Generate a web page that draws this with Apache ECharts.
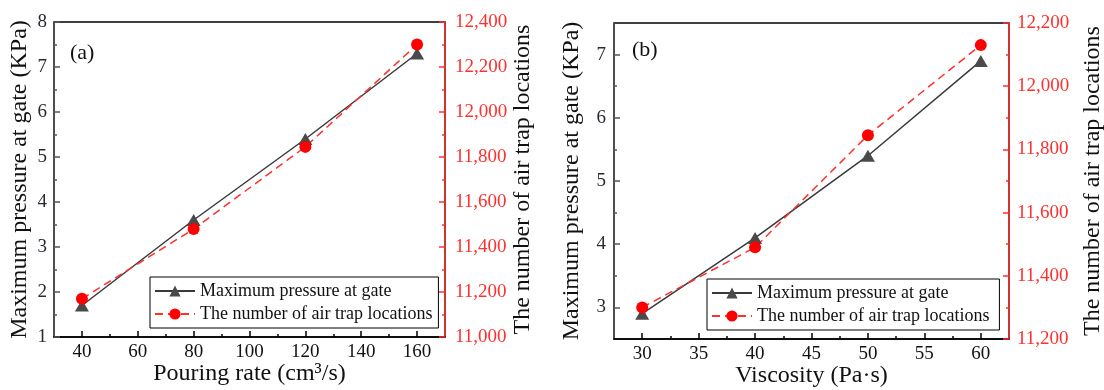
<!DOCTYPE html>
<html>
<head>
<meta charset="utf-8">
<script src="https://cdn.jsdelivr.net/npm/echarts@6/dist/echarts.min.js"></script>
<style>
	html, body { margin: 0; padding: 0; background: #fff; }
	#main { width: 1104px; height: 390px; }
</style>
</head>
<body>
<div id="main"></div>
<script>
	// panel (a): pouring rate
	const rateA = [40, 80, 120, 160];
	const pressureA = [1.7, 3.6, 5.4, 7.3];
	const trapsA = [11170, 11480, 11845, 12300];
	const xLabelsA = [40, 60, 80, 100, 120, 140, 160];
	const xMinorA = [50, 70, 90, 110, 130, 150];

	// panel (b): viscosity
	const viscB = [30, 40, 50, 60];
	const pressureB = [2.9, 4.1, 5.4, 6.9];
	const trapsB = [11300, 11490, 11845, 12130];
	const xLabelsB = [30, 35, 40, 45, 50, 55, 60];
	const xMinorB = [32.5, 37.5, 42.5, 47.5, 52.5, 57.5];
	const yLabelsB = [3, 4, 5, 6, 7];
	const yMinorB = [3.5, 4.5, 5.5, 6.5];

	const nameP = 'Maximum pressure at gate';
	const nameT = 'The number of air trap locations';

	const FONT = '"Liberation Serif", "DejaVu Serif", serif';
	const GRAY = '#555';
	const RED = '#ff3030';

	function pair(xs, ys) {
		return xs.map((x, i) => [x, ys[i]]);
	}

	function xMain(grid, min, max, labels, name) {
		return {
			gridIndex: grid, type: 'value', position: 'bottom', min: min, max: max,
			name: name, nameLocation: 'middle', nameGap: 25, nameMoveOverlap: false,
			nameTextStyle: { fontFamily: FONT, fontSize: 24, color: '#111' },
			axisLine: { lineStyle: { color: '#000', width: 1.5 } },
			axisTick: { inside: true, length: 6, customValues: labels, lineStyle: { color: '#000', width: 1.5 } },
			axisLabel: { customValues: labels, margin: 6, fontFamily: FONT, fontSize: 19, color: '#111' },
			splitLine: { show: false }
		};
	}

	function xMinor(grid, min, max, ticks) {
		return {
			gridIndex: grid, type: 'value', position: 'bottom', min: min, max: max,
			axisLine: { show: false },
			axisTick: { inside: true, length: 3, customValues: ticks, lineStyle: { color: '#000', width: 1.5 } },
			axisLabel: { show: false },
			splitLine: { show: false }
		};
	}

	let chart = echarts.init(document.getElementById('main'));
	chart.setOption({
		backgroundColor: '#fff',
		animation: false,
		grid: [
			{ left: 54, right: 659, top: 22, bottom: 53, outerBoundsMode: 'none', containLabel: false, show: true, borderColor: '#000', borderWidth: 1.5 },
			{ left: 614, right: 95, top: 23, bottom: 51, outerBoundsMode: 'none', containLabel: false, show: true, borderColor: '#000', borderWidth: 1.5 }
		],
		xAxis: [
			xMain(0, 30, 170, xLabelsA, 'Pouring rate (cm³/s)'),
			xMinor(0, 30, 170, xMinorA),
			xMain(1, 27.5, 62.5, xLabelsB, 'Viscosity (Pa·s)'),
			xMinor(1, 27.5, 62.5, xMinorB)
		],
		yAxis: [
			{
				gridIndex: 0, type: 'value', position: 'left', min: 1, max: 8, interval: 1,
				name: 'Maximum pressure at gate (KPa)', nameLocation: 'middle', nameGap: 22, nameRotate: 90, nameMoveOverlap: false,
				nameTextStyle: { fontFamily: FONT, fontSize: 24, color: '#111' },
				axisLine: { lineStyle: { color: GRAY, width: 1.5 } },
				axisTick: { inside: true, length: 6, lineStyle: { color: GRAY, width: 1.5 } },
				minorTick: { show: true, splitNumber: 2, length: 3, lineStyle: { color: GRAY, width: 1.5 } },
				axisLabel: { margin: 7, fontFamily: FONT, fontSize: 19, color: '#2a2a35' },
				splitLine: { show: false }
			},
			{
				gridIndex: 0, type: 'value', position: 'right', min: 11000, max: 12400, interval: 200,
				name: nameT, nameLocation: 'middle', nameGap: 66, nameRotate: 90, nameMoveOverlap: false,
				nameTextStyle: { fontFamily: FONT, fontSize: 24, color: '#111' },
				axisLine: { lineStyle: { color: RED, width: 1.5 } },
				axisTick: { inside: true, length: 6, lineStyle: { color: RED, width: 1.5 } },
				minorTick: { show: true, splitNumber: 2, length: 3, lineStyle: { color: RED, width: 1.5 } },
				axisLabel: { margin: 10, fontFamily: FONT, fontSize: 19, color: RED, formatter: v => v.toLocaleString('en-US') },
				splitLine: { show: false }
			},
			{
				gridIndex: 1, type: 'value', position: 'left', min: 2.5, max: 7.5,
				name: 'Maximum pressure at gate (KPa)', nameLocation: 'middle', nameGap: 30, nameRotate: 90, nameMoveOverlap: false,
				nameTextStyle: { fontFamily: FONT, fontSize: 24, color: '#111' },
				axisLine: { lineStyle: { color: GRAY, width: 1.5 } },
				axisTick: { inside: true, length: 6, customValues: yLabelsB, lineStyle: { color: GRAY, width: 1.5 } },
				axisLabel: { customValues: yLabelsB, margin: 8, fontFamily: FONT, fontSize: 19, color: '#2a2a35' },
				splitLine: { show: false }
			},
			{
				gridIndex: 1, type: 'value', position: 'left', min: 2.5, max: 7.5,
				axisLine: { show: false },
				axisTick: { inside: true, length: 3, customValues: yMinorB, lineStyle: { color: GRAY, width: 1.5 } },
				axisLabel: { show: false },
				splitLine: { show: false }
			},
			{
				gridIndex: 1, type: 'value', position: 'right', min: 11200, max: 12200, interval: 200,
				name: nameT, nameLocation: 'middle', nameGap: 72, nameRotate: 90, nameMoveOverlap: false,
				nameTextStyle: { fontFamily: FONT, fontSize: 24, color: '#111' },
				axisLine: { lineStyle: { color: RED, width: 1.5 } },
				axisTick: { inside: true, length: 6, lineStyle: { color: RED, width: 1.5 } },
				minorTick: { show: true, splitNumber: 2, length: 3, lineStyle: { color: RED, width: 1.5 } },
				axisLabel: { margin: 8, fontFamily: FONT, fontSize: 19, color: RED, formatter: v => v.toLocaleString('en-US') },
				splitLine: { show: false }
			}
		],
		legend: [
			{
				left: 150, top: 277, orient: 'vertical', itemGap: 3, itemWidth: 40, itemHeight: 14,
				padding: [4, 6, 4, 4], borderColor: '#000', borderWidth: 1,
				data: [nameP, nameT],
				textStyle: { fontFamily: FONT, fontSize: 18, color: '#111', lineHeight: 20 }
			},
			{
				left: 707, top: 279, orient: 'vertical', itemGap: 3, itemWidth: 40, itemHeight: 14,
				padding: [4, 10, 4, 4], borderColor: '#000', borderWidth: 1,
				data: [nameP, nameT],
				textStyle: { fontFamily: FONT, fontSize: 18, color: '#111', lineHeight: 20 }
			}
		],
		graphic: [
			{ type: 'text', left: 70, top: 42, style: { text: '(a)', font: '22px ' + FONT, fill: '#111' } },
			{ type: 'text', left: 632, top: 39, style: { text: '(b)', font: '22px ' + FONT, fill: '#111' } }
		],
		series: [
			{
				name: nameP, type: 'line', xAxisIndex: 0, yAxisIndex: 0, data: pair(rateA, pressureA),
				symbol: 'triangle', symbolSize: [14, 12],
				lineStyle: { color: '#3a3a3a', width: 1.5 }, itemStyle: { color: '#4a4a4a' }
			},
			{
				name: nameT, type: 'line', xAxisIndex: 0, yAxisIndex: 1, data: pair(rateA, trapsA),
				symbol: 'circle', symbolSize: 12,
				lineStyle: { color: RED, width: 1.5, type: [8, 5] }, itemStyle: { color: '#ff0000' }
			},
			{
				name: nameP, type: 'line', xAxisIndex: 2, yAxisIndex: 2, data: pair(viscB, pressureB),
				symbol: 'triangle', symbolSize: [14, 12],
				lineStyle: { color: '#3a3a3a', width: 1.5 }, itemStyle: { color: '#4a4a4a' }
			},
			{
				name: nameT, type: 'line', xAxisIndex: 2, yAxisIndex: 4, data: pair(viscB, trapsB),
				symbol: 'circle', symbolSize: 12,
				lineStyle: { color: RED, width: 1.5, type: [8, 5] }, itemStyle: { color: '#ff0000' }
			}
		]
	});
</script>
</body>
</html>
